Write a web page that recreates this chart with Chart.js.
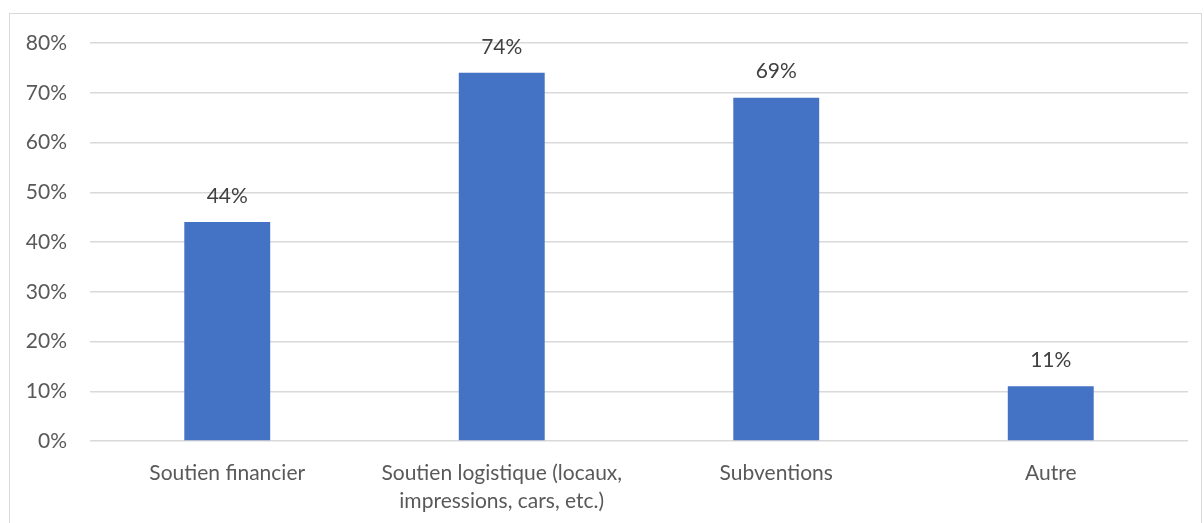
<!DOCTYPE html>
<html>
<head>
<meta charset="utf-8">
<script src="https://cdn.jsdelivr.net/npm/chart.js@4/dist/chart.umd.min.js"></script>
<style>
  body { margin: 0; background: #fff; }
  #cadre { position: absolute; left: 9px; top: 13px; width: 1191px; height: 530px; border: 1px solid #d9d9d9; }
  #zone { position: absolute; left: 0; top: 0; width: 1204px; height: 523px; }
</style>
</head>
<body>
<div id="cadre"></div>
<div id="zone"><canvas id="graphique"></canvas></div>
<script>
// données
const categories = ['Soutien financier', ['Soutien logistique (locaux,', 'impressions, cars, etc.)'], 'Subventions', 'Autre'];
const valeurs = [44, 74, 69, 11];
const graduations = [0, 10, 20, 30, 40, 50, 60, 70, 80];

const bleu = '#4472C4';
const gris = '#595959';
const police = "Lato, 'Open Sans', sans-serif";

// étiquettes au-dessus des barres
const etiquettes = {
    id: 'etiquettes',
    afterDatasetsDraw(chart) {
        const ctx = chart.ctx;
        const meta = chart.getDatasetMeta(0);
        ctx.save();
        ctx.font = '21px ' + police;
        ctx.fillStyle = '#404040';
        ctx.textAlign = 'center';
        ctx.textBaseline = 'middle';
        meta.data.forEach((barre, i) => {
            ctx.fillText(valeurs[i] + '%', barre.x, barre.y - 26);
        });
        ctx.restore();
    }
};

const ctx = document.getElementById('graphique').getContext('2d');
new Chart(ctx, {
    type: 'bar',
    data: {
        labels: categories,
        datasets: [{
            data: valeurs,
            backgroundColor: bleu,
            borderWidth: 0,
            categoryPercentage: 1,
            barPercentage: 0.313
        }]
    },
    options: {
        responsive: true,
        maintainAspectRatio: false,
        animation: false,
        layout: { padding: { left: 0, right: 16, top: 43, bottom: 0 } },
        scales: {
            x: {
                grid: { display: false, drawTicks: false },
                border: { display: false },
                ticks: {
                    color: gris,
                    font: { family: police, size: 21, lineHeight: 1.35 },
                    padding: 18,
                    maxRotation: 0,
                    autoSkip: false
                },
                afterFit(scale) { scale.height = 82; }
            },
            y: {
                min: 0,
                max: 80,
                afterBuildTicks(scale) { scale.ticks = graduations.map(v => ({ value: v })); },
                grid: { color: '#d9d9d9', lineWidth: 1.5, drawTicks: false },
                border: { display: false },
                ticks: {
                    color: gris,
                    font: { family: police, size: 21 },
                    padding: 23,
                    callback: v => v + '%'
                },
                afterFit(scale) { scale.width = 90; }
            }
        },
        plugins: {
            legend: { display: false },
            tooltip: { enabled: false }
        }
    },
    plugins: [etiquettes]
});
</script>
</body>
</html>
